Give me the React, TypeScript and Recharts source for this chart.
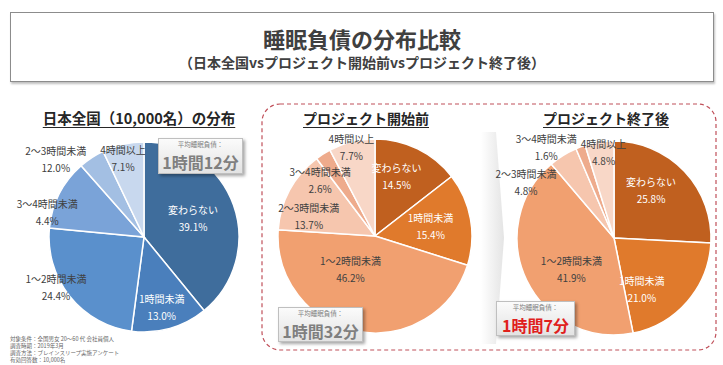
import React from 'react';
import { PieChart, Pie, Cell } from 'recharts';

// 睡眠負債の分布（%）
const categories = ['変わらない', '1時間未満', '1～2時間未満', '2～3時間未満', '3～4時間未満', '4時間以上'];
const nationwide = [39.1, 13.0, 24.4, 12.0, 4.4, 7.1];
const beforeProject = [14.5, 15.4, 46.2, 13.7, 2.6, 7.7];
const afterProject = [25.8, 21.0, 41.9, 4.8, 1.6, 4.8];
const averages = ['1時間12分', '1時間32分', '1時間7分'];
const panelTitles = ['日本全国（10,000名）の分布', 'プロジェクト開始前', 'プロジェクト終了後'];
const notes = [
    '対象条件：全国男女 20～60 代 会社員個人',
    '調査時期：2019年3月',
    '調査方法：ブレインスリープ実施アンケート',
    '有効回答数：10,000名'
];

const blues = ['#3f6d9c', '#4a7fbc', '#5a90cc', '#7aa3d8', '#a3bfe3', '#c8d8ee'];
const oranges = ['#c0601f', '#e07a2c', '#f1a070', '#f6c6ae', '#eeab8c', '#f8d7c7'];

// label spot per slice: [angle from 12 o'clock, clockwise; distance as share of radius]
const leftPlace = [[70, 0.55], [166, 0.77], [240, 1.07], [311, 1.23], [284, 1.05], [345, 0.85]];
const midPlace = [[20, 0.65], [81, 0.58], [216, 0.43], [286, 0.71], [315, 0.8], [345, 0.94]];
const rightPlace = [[38, 0.62], [152, 0.61], [233, 0.55], [302, 1.07], [323, 1.16], [353, 0.88]];

const FONT = '"Noto Sans CJK JP", "Noto Sans", sans-serif';
const W = 280;
const H = 250;

function makeLabel(place: number[][]) {
    return (props: any) => {
        const { cx, cy, outerRadius, index, value } = props;
        const [a, k] = place[index];
        const rad = (a * Math.PI) / 180;
        const x = cx + k * outerRadius * Math.sin(rad);
        const y = cy - k * outerRadius * Math.cos(rad);
        const fill = index < 2 ? '#ffffff' : '#404040';
        return (
            <text x={x} y={y} textAnchor="middle" fill={fill} fontSize={10} fontFamily={FONT}>
                <tspan x={x} dy={-5}>{categories[index]}</tspan>
                <tspan x={x} dy={17}>{value.toFixed(1)}%</tspan>
            </text>
        );
    };
}

function PieBlock({ values, colors, place, cx, cy, r }: { values: number[]; colors: string[]; place: number[][]; cx: number; cy: number; r: number }) {
    const data = categories.map((name, i) => ({ name, value: values[i] }));
    return (
        <div style={{ position: 'absolute', left: cx - W / 2, top: cy - H / 2, width: W, height: H }}>
            <PieChart width={W} height={H} margin={{ top: 0, right: 0, bottom: 0, left: 0 }}>
                <Pie
                    data={data}
                    dataKey="value"
                    nameKey="name"
                    cx="50%"
                    cy="50%"
                    outerRadius={r}
                    startAngle={90}
                    endAngle={-270}
                    stroke="#ffffff"
                    strokeWidth={1.5}
                    labelLine={false}
                    label={makeLabel(place)}
                    isAnimationActive={false}
                >
                    {data.map((d, i) => (
                        <Cell key={d.name} fill={colors[i]} />
                    ))}
                </Pie>
            </PieChart>
        </div>
    );
}

function AvgBox({ left, top, width, height, text, color }: { left: number; top: number; width: number; height: number; text: string; color: string }) {
    return (
        <div
            style={{
                position: 'absolute',
                left,
                top,
                width,
                height,
                boxSizing: 'border-box',
                border: '1px solid #bfbfbf',
                background: 'linear-gradient(#fbfbfb, #e3e3e3)',
                boxShadow: '2px 2px 3px rgba(0,0,0,0.35)',
                textAlign: 'center',
                fontFamily: FONT
            }}
        >
            <div style={{ fontSize: 6.5, lineHeight: '7px', color: '#7f7f7f', marginTop: 2 }}>平均睡眠負債：</div>
            <div style={{ fontSize: 16, lineHeight: '16px', fontWeight: 'bold', color, marginTop: 6 }}>{text}</div>
        </div>
    );
}

function SectionTitle({ cx, text, size }: { cx: number; text: string; size: number }) {
    return (
        <div
            style={{
                position: 'absolute',
                left: cx - 120,
                width: 240,
                top: 107,
                textAlign: 'center',
                fontSize: size,
                lineHeight: '22px',
                fontWeight: 'bold',
                color: '#262626',
                textDecoration: 'underline',
                textUnderlineOffset: 3,
                fontFamily: FONT
            }}
        >
            {text}
        </div>
    );
}

export default function App() {
    return (
        <div
            style={{
                position: 'absolute',
                left: 0,
                top: 0,
                width: 723,
                height: 365,
                overflow: 'hidden',
                background: '#ffffff',
                fontFamily: FONT
            }}
        >
            <svg width={723} height={365} style={{ position: 'absolute', left: 0, top: 0 }}>
                <defs>
                    <linearGradient id="chev" x1="0" y1="0" x2="1" y2="0">
                        <stop offset="0%" stopColor="#ffffff" />
                        <stop offset="100%" stopColor="#e4e4e4" />
                    </linearGradient>
                </defs>
                <rect x={262} y={104} width={454} height={246} rx={18} fill="none" stroke="#c0505a" strokeWidth={1.2} strokeDasharray="4 3" />
                <polygon points="481,132 496,132 504,238 496,344 481,344" fill="url(#chev)" />
            </svg>

            <div
                style={{
                    position: 'absolute',
                    left: 10,
                    top: 12,
                    width: 704,
                    height: 70,
                    boxSizing: 'border-box',
                    border: '1px solid #8c8c8c',
                    boxShadow: '1px 2px 2px rgba(0,0,0,0.25)',
                    textAlign: 'center',
                    color: '#404040'
                }}
            >
                <div style={{ fontSize: 22, lineHeight: '22px', fontWeight: 'bold', marginTop: 14 }}>睡眠負債の分布比較</div>
                <div style={{ fontSize: 14, lineHeight: '16px', fontWeight: 'bold', marginTop: 5 }}>（日本全国vsプロジェクト開始前vsプロジェクト終了後）</div>
            </div>

            <SectionTitle cx={139} text={panelTitles[0]} size={14.5} />
            <SectionTitle cx={366} text={panelTitles[1]} size={14} />
            <SectionTitle cx={606} text={panelTitles[2]} size={14} />

            <PieBlock values={nationwide} colors={blues} place={leftPlace} cx={144} cy={237} r={95} />
            <PieBlock values={beforeProject} colors={oranges} place={midPlace} cx={375} cy={236} r={97} />
            <PieBlock values={afterProject} colors={oranges} place={rightPlace} cx={614} cy={238} r={97} />

            <AvgBox left={158} top={138} width={85} height={36} text={averages[0]} color="#7f7f7f" />
            <AvgBox left={278} top={307} width={85} height={35} text={averages[1]} color="#7f7f7f" />
            <AvgBox left={496} top={301} width={79} height={35} text={averages[2]} color="#e0201c" />

            <div style={{ position: 'absolute', left: 10, top: 336, fontSize: 5.5, lineHeight: '7px', color: '#666666' }}>
                {notes.map((n) => (
                    <div key={n}>{n}</div>
                ))}
            </div>
        </div>
    );
}
